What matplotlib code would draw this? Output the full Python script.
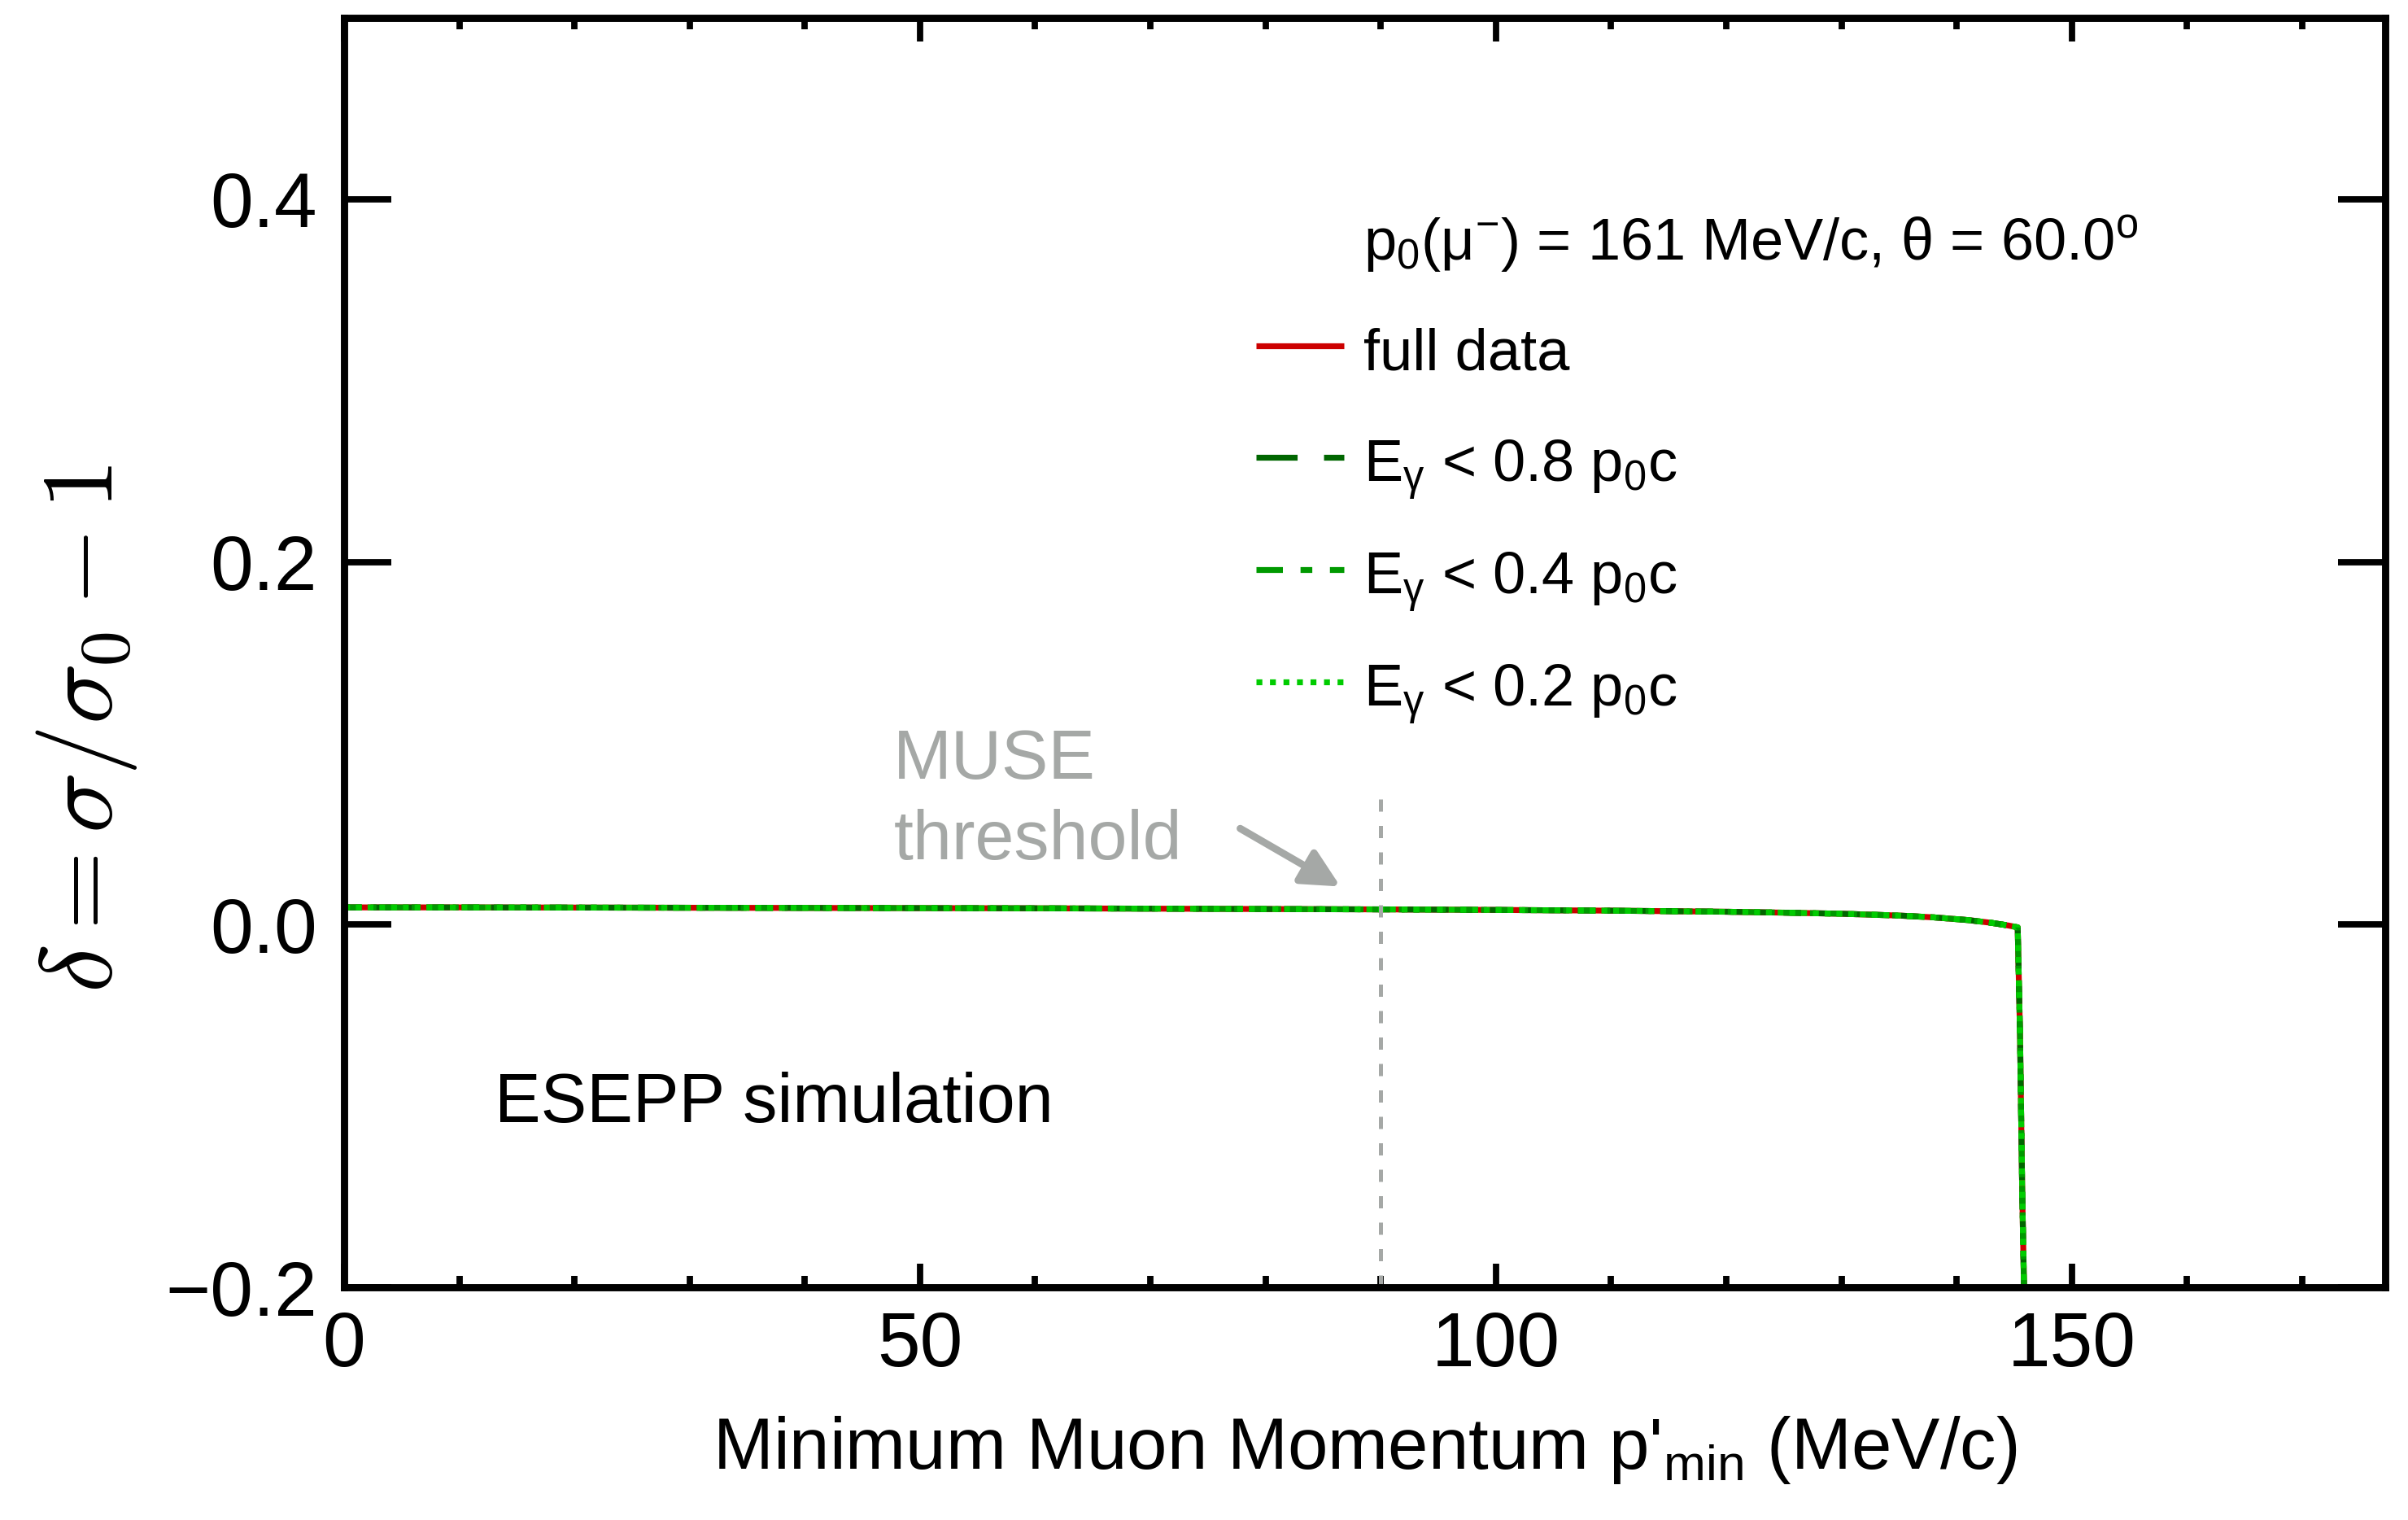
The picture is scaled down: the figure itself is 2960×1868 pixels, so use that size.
"""
ESEPP radiative correction delta vs minimum muon momentum
"""
import matplotlib
matplotlib.use('Agg')
import matplotlib.pyplot as plt
import numpy as np

plt.rcParams['font.family'] = ['Liberation Sans', 'DejaVu Sans']
plt.rcParams['mathtext.fontset'] = 'custom'
plt.rcParams['mathtext.rm'] = 'Liberation Sans'
plt.rcParams['mathtext.it'] = 'Liberation Sans:italic'
plt.rcParams['mathtext.bf'] = 'Liberation Sans:bold'

# data (all four curves coincide)
p_min = [0, 10, 20, 30, 40, 50, 60, 70, 80, 90, 100, 110, 120, 125, 130,
         135, 138, 141, 143, 144.5, 145.3, 145.5, 145.7, 146.0]
delta_full = [0.0095, 0.0095, 0.0094, 0.0093, 0.0092, 0.0091, 0.0090, 0.0088,
              0.0086, 0.0084, 0.0081, 0.0077, 0.0071, 0.0066, 0.0060, 0.0050,
              0.0040, 0.0025, 0.0010, -0.0005, -0.0015, -0.06, -0.15, -0.25]
delta_08 = list(delta_full)
delta_04 = list(delta_full)
delta_02 = list(delta_full)

labels = ['full data',
          r'E$_{\mathregular{γ}}$ < 0.8 p$_{\mathregular{0}}$c',
          r'E$_{\mathregular{γ}}$ < 0.4 p$_{\mathregular{0}}$c',
          r'E$_{\mathregular{γ}}$ < 0.2 p$_{\mathregular{0}}$c']
colors = ['#cc0000', '#006600', '#009900', '#00cc00']
header = r'p$_{\mathregular{0}}$(μ$^{\mathregular{-}}$) = 161 MeV/c, θ = 60.0$^{\mathregular{o}}$'

muse_x = 90
gray = '#a5a8a6'

fig = plt.figure(figsize=(14.8, 9.34), dpi=200)
ax = fig.add_axes([0.1429, 0.1531, 0.9905 - 0.1429, 0.9882 - 0.1531])

series = [delta_full, delta_08, delta_04, delta_02]
curve_dash = [None, (3, 2), (3, 1.5, 1, 1.5), (1, 1)]
lw = 2.6
for ys, c, d in zip(series, colors, curve_dash):
    if d is None:
        ax.plot(p_min, ys, color=c, lw=lw, solid_capstyle='butt')
    else:
        ax.plot(p_min, ys, color=c, lw=lw, dashes=d, dash_capstyle='butt')

# MUSE threshold
ax.plot([muse_x, muse_x], [-0.2, 0.07], color=gray, lw=1.8, dashes=(3, 3.5))
ax.text(47.7, 0.036, 'MUSE\nthreshold', color=gray, fontsize=31,
        ha='left', va='baseline', linespacing=1.3)
ax.annotate('', xy=(86.5, 0.021), xytext=(77.8, 0.053),
            arrowprops=dict(arrowstyle='-|>', color=gray, lw=3.2,
                            mutation_scale=35, shrinkA=0, shrinkB=0))

ax.text(13.1, -0.099, 'ESEPP simulation', fontsize=30.5, ha='left', va='center')

# legend drawn by hand
hx0, hx1, tx = 0.447, 0.490, 0.4996
ax.text(tx, 0.809, header, transform=ax.transAxes, fontsize=26,
        ha='left', va='baseline')
row_y = [0.742, 0.654, 0.5655, 0.477]
hand_dash = [None, (7, 4.5), (4.5, 3, 2, 3), (1, 1.3)]
for yy, lab, c, d in zip(row_y, labels, colors, hand_dash):
    if d is None:
        ax.plot([hx0, hx1], [yy, yy], transform=ax.transAxes, color=c, lw=lw,
                solid_capstyle='butt')
    else:
        ax.plot([hx0, hx1], [yy, yy], transform=ax.transAxes, color=c, lw=lw,
                dashes=d, dash_capstyle='butt')
    ax.text(tx, yy - 0.019, lab, transform=ax.transAxes, fontsize=26,
            ha='left', va='baseline')

ax.set_xlim(0, 177.2)
ax.set_ylim(-0.2, 0.5)
ax.set_xticks([0, 50, 100, 150])
ax.set_xticks(np.arange(10, 180, 10), minor=True)
ax.set_yticks([-0.2, 0.0, 0.2, 0.4])
ax.set_yticklabels(['\u22120.2', '0.0', '0.2', '0.4'])

for s in ax.spines.values():
    s.set_linewidth(3.2)
ax.tick_params(axis='x', which='major', direction='in', length=10.5, width=2.8,
               top=True, labelsize=34, pad=10)
ax.tick_params(axis='x', which='minor', direction='in', length=5, width=2.8,
               top=True)
ax.tick_params(axis='y', which='major', direction='in', length=21, width=2.8,
               right=True, labelsize=34, pad=12)

ax.set_xlabel("Minimum Muon Momentum p'$_{\\mathregular{min}}$ (MeV/c)",
              fontsize=32, labelpad=14)
ax.text(-0.126, 0.44, r'$\delta = \sigma/\sigma_0 - 1$', transform=ax.transAxes,
        rotation=90, ha='center', va='center', fontsize=45, math_fontfamily='cm')

fig.savefig('out.png', dpi=200)
